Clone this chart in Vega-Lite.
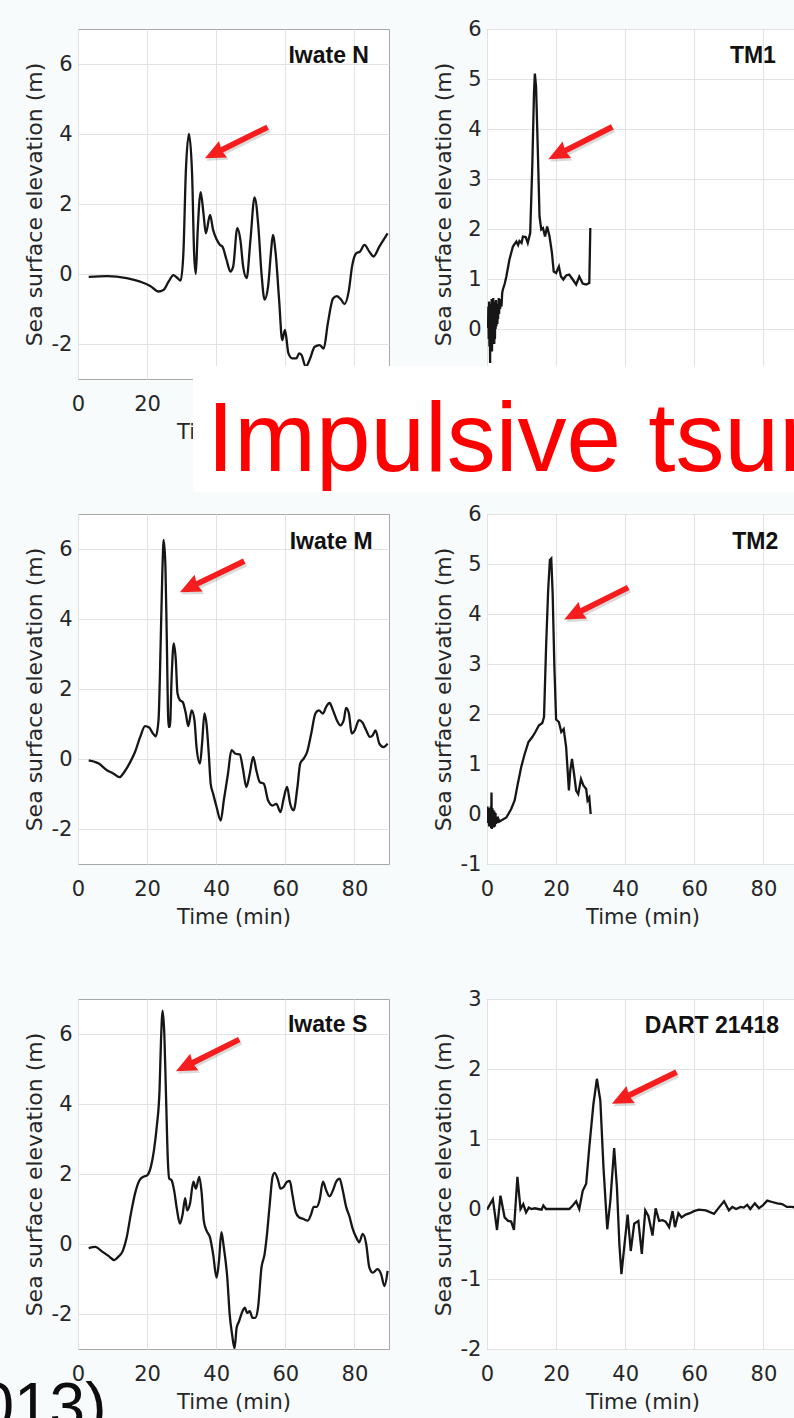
{
  "$schema": "https://vega.github.io/schema/vega-lite/v6.json",
  "autosize": {"type": "none"},
  "padding": {"left": 78, "top": 29, "right": 716, "bottom": 1389},
  "background": "#f7fbfc",
  "config": {
    "font": "DejaVu Sans",
    "view": {"stroke": "#a8a8a8", "strokeWidth": 1, "fill": "#ffffff"},
    "axis": {
      "grid": true, "gridColor": "#e2e2e2", "gridWidth": 1,
      "domain": false, "ticks": false,
      "labelFont": "DejaVu Sans", "labelFontSize": 21, "labelColor": "#262626",
      "labelFlush": false, "labelOverlap": false, "labelBound": false,
      "labelExpr": "'' + datum.value",
      "titleFont": "DejaVu Sans", "titleFontWeight": "normal", "titleColor": "#262626"
    },
    "axisX": {"labelPadding": 14, "titleFontSize": 21, "titlePadding": 7},
    "axisY": {"labelPadding": 6, "titleFontSize": 22, "titlePadding": 5}
  },
  "datasets": {
    "iwateN": [
      {"t":3.1,"h":-0.08},{"t":8.4,"h":-0.06},{"t":14.1,"h":-0.12},{"t":18,"h":-0.22},{"t":20.9,"h":-0.34},{"t":23.3,"h":-0.5},{"t":24.7,"h":-0.46},{"t":26.2,"h":-0.22},{"t":27.6,"h":-0.03},{"t":28.6,"h":-0.1},{"t":29.7,"h":-0.19},{"t":30.5,"h":0.6},{"t":31.2,"h":2.9},{"t":32.1,"h":4.0},{"t":33,"h":2.9},{"t":33.6,"h":0.6},{"t":34.1,"h":0.0},{"t":34.6,"h":1.16},{"t":35.5,"h":2.34},{"t":36.3,"h":1.74},{"t":37,"h":1.16},{"t":38.2,"h":1.69},{"t":39.1,"h":1.26},{"t":40.1,"h":0.99},{"t":41.1,"h":0.83},{"t":41.8,"h":0.78},{"t":43,"h":0.4},{"t":44.1,"h":0.07},{"t":44.9,"h":0.21},{"t":46.1,"h":1.31},{"t":47,"h":0.97},{"t":47.8,"h":0.21},{"t":48.8,"h":-0.12},{"t":49.9,"h":0.97},{"t":51.1,"h":2.19},{"t":52.2,"h":1.35},{"t":53.1,"h":0.02},{"t":54,"h":-0.73},{"t":55,"h":-0.36},{"t":55.9,"h":0.69},{"t":56.4,"h":1.12},{"t":57.2,"h":0.59},{"t":58.2,"h":-0.74},{"t":59.1,"h":-1.89},{"t":59.9,"h":-1.6},{"t":60.9,"h":-2.27},{"t":62,"h":-2.41},{"t":63.2,"h":-2.41},{"t":64,"h":-2.27},{"t":64.7,"h":-2.32},{"t":65.9,"h":-2.65},{"t":67,"h":-2.46},{"t":68.5,"h":-2.08},{"t":69.9,"h":-2.03},{"t":71.1,"h":-2.13},{"t":72.3,"h":-1.41},{"t":73.8,"h":-0.7},{"t":74.9,"h":-0.63},{"t":76.2,"h":-0.74},{"t":77.1,"h":-0.86},{"t":78.4,"h":-0.46},{"t":79.3,"h":0.21},{"t":80.5,"h":0.59},{"t":81.6,"h":0.64},{"t":82.9,"h":0.83},{"t":84.3,"h":0.64},{"t":85.5,"h":0.5},{"t":87.2,"h":0.78},{"t":89.6,"h":1.16}
    ],
    "tm1": [
      {"t":0.3,"h":0.02},{"t":0.4,"h":0.45},{"t":0.5,"h":-0.2},{"t":0.6,"h":0.55},{"t":0.7,"h":-0.35},{"t":0.8,"h":0.5},{"t":0.9,"h":-0.68},{"t":1.0,"h":0.3},{"t":1.05,"h":0.45},{"t":1.15,"h":-0.4},{"t":1.25,"h":0.2},{"t":1.35,"h":0.6},{"t":1.45,"h":-0.45},{"t":1.55,"h":0.35},{"t":1.65,"h":-0.2},{"t":1.8,"h":0.62},{"t":1.9,"h":-0.1},{"t":2.0,"h":0.5},{"t":2.1,"h":-0.3},{"t":2.2,"h":0.55},{"t":2.3,"h":-0.2},{"t":2.4,"h":0.4},{"t":2.5,"h":0.0},{"t":2.6,"h":0.58},{"t":2.7,"h":0.05},{"t":2.85,"h":0.5},{"t":3.0,"h":0.1},{"t":3.1,"h":0.45},{"t":3.2,"h":0.2},{"t":3.4,"h":0.62},{"t":3.5,"h":0.3},{"t":3.6,"h":0.55},{"t":3.8,"h":0.4},{"t":4.0,"h":0.6},{"t":4.2,"h":0.45},{"t":4.4,"h":0.72},{"t":4.6,"h":0.79},{"t":5.1,"h":0.9},{"t":5.6,"h":1.05},{"t":6.5,"h":1.39},{"t":7.5,"h":1.65},{"t":8.5,"h":1.75},{"t":9.0,"h":1.68},{"t":9.4,"h":1.76},{"t":10.0,"h":1.72},{"t":10.4,"h":1.85},{"t":11.2,"h":1.84},{"t":11.8,"h":1.72},{"t":12.5,"h":1.92},{"t":13.1,"h":3.25},{"t":13.6,"h":4.72},{"t":13.85,"h":5.11},{"t":14.2,"h":4.85},{"t":14.7,"h":3.59},{"t":15.2,"h":2.25},{"t":15.7,"h":1.99},{"t":16.2,"h":2.02},{"t":16.8,"h":1.85},{"t":17.4,"h":2.05},{"t":18.1,"h":1.85},{"t":18.8,"h":1.52},{"t":19.3,"h":1.15},{"t":20,"h":1.12},{"t":20.8,"h":1.25},{"t":21.4,"h":1.05},{"t":22.1,"h":0.99},{"t":22.9,"h":1.07},{"t":23.8,"h":1.09},{"t":24.8,"h":0.99},{"t":25.8,"h":0.89},{"t":26.7,"h":1.05},{"t":27.7,"h":0.91},{"t":28.7,"h":0.89},{"t":29.6,"h":0.92},{"t":29.9,"h":2.02}
    ],
    "iwateM": [
      {"t":3.1,"h":-0.04},{"t":6,"h":-0.13},{"t":8.4,"h":-0.32},{"t":10.3,"h":-0.42},{"t":12,"h":-0.52},{"t":13.4,"h":-0.37},{"t":15.1,"h":-0.09},{"t":16.5,"h":0.2},{"t":18,"h":0.63},{"t":19.4,"h":0.94},{"t":20.6,"h":0.9},{"t":21.6,"h":0.74},{"t":22.5,"h":0.65},{"t":23.3,"h":1.11},{"t":23.9,"h":3.21},{"t":24.4,"h":5.31},{"t":24.8,"h":6.26},{"t":25.3,"h":5.5},{"t":25.7,"h":3.4},{"t":26.2,"h":0.92},{"t":26.6,"h":0.92},{"t":27.1,"h":2.35},{"t":27.7,"h":3.3},{"t":28.3,"h":2.83},{"t":28.8,"h":1.87},{"t":29.5,"h":1.68},{"t":30.3,"h":1.63},{"t":31.2,"h":1.3},{"t":31.9,"h":0.94},{"t":32.9,"h":1.39},{"t":33.7,"h":1.11},{"t":34.3,"h":0.34},{"t":35.3,"h":-0.13},{"t":35.9,"h":0.44},{"t":36.6,"h":1.3},{"t":37.2,"h":0.99},{"t":37.9,"h":0.06},{"t":38.4,"h":-0.71},{"t":39.1,"h":-0.99},{"t":40.1,"h":-1.37},{"t":41.3,"h":-1.76},{"t":42.2,"h":-1.18},{"t":43.4,"h":-0.42},{"t":44.4,"h":0.25},{"t":45.6,"h":0.15},{"t":46.8,"h":0.13},{"t":47.8,"h":-0.32},{"t":48.7,"h":-0.8},{"t":49.7,"h":-0.42},{"t":50.7,"h":0.06},{"t":51.6,"h":-0.32},{"t":52.6,"h":-0.66},{"t":53.8,"h":-0.71},{"t":55,"h":-1.18},{"t":56.3,"h":-1.33},{"t":57.4,"h":-1.28},{"t":58.6,"h":-1.52},{"t":59.5,"h":-1.14},{"t":60.5,"h":-0.8},{"t":61.4,"h":-1.28},{"t":62.4,"h":-1.47},{"t":63.5,"h":-0.8},{"t":64.3,"h":-0.13},{"t":65.3,"h":0.01},{"t":66.3,"h":0.2},{"t":67.5,"h":0.73},{"t":68.7,"h":1.3},{"t":69.7,"h":1.39},{"t":70.9,"h":1.3},{"t":71.8,"h":1.49},{"t":72.8,"h":1.6},{"t":73.8,"h":1.39},{"t":74.9,"h":1.11},{"t":75.9,"h":0.96},{"t":76.9,"h":1.11},{"t":77.6,"h":1.46},{"t":78.4,"h":1.3},{"t":79.2,"h":0.73},{"t":80.1,"h":0.82},{"t":81.3,"h":1.11},{"t":82.4,"h":1.03},{"t":83.4,"h":0.82},{"t":84.5,"h":0.63},{"t":85.3,"h":0.68},{"t":86.1,"h":0.82},{"t":87.2,"h":0.44},{"t":88.4,"h":0.34},{"t":89.6,"h":0.44}
    ],
    "tm2": [
      {"t":0,"h":0},{"t":0.15,"h":0.15},{"t":0.3,"h":-0.18},{"t":0.45,"h":0.12},{"t":0.6,"h":-0.25},{"t":0.75,"h":0.1},{"t":0.9,"h":-0.22},{"t":1.05,"h":0.15},{"t":1.2,"h":-0.28},{"t":1.3,"h":0.43},{"t":1.4,"h":-0.3},{"t":1.55,"h":0.12},{"t":1.7,"h":-0.25},{"t":1.85,"h":0.08},{"t":2.0,"h":-0.27},{"t":2.15,"h":0.05},{"t":2.3,"h":-0.25},{"t":2.45,"h":0.02},{"t":2.6,"h":-0.2},{"t":2.8,"h":-0.05},{"t":3.0,"h":-0.18},{"t":3.3,"h":-0.1},{"t":3.6,"h":-0.15},{"t":4.1,"h":-0.13},{"t":5.6,"h":-0.07},{"t":7,"h":0.1},{"t":8,"h":0.27},{"t":8.9,"h":0.6},{"t":9.9,"h":0.94},{"t":10.9,"h":1.2},{"t":12,"h":1.44},{"t":13.1,"h":1.54},{"t":14,"h":1.64},{"t":15,"h":1.77},{"t":16,"h":1.82},{"t":16.5,"h":1.94},{"t":17.1,"h":3.34},{"t":17.7,"h":4.48},{"t":18.2,"h":5.08},{"t":18.6,"h":5.11},{"t":19,"h":4.41},{"t":19.5,"h":2.94},{"t":20,"h":1.89},{"t":20.8,"h":1.84},{"t":21.5,"h":1.64},{"t":22.2,"h":1.7},{"t":22.9,"h":1.34},{"t":23.7,"h":0.47},{"t":24.1,"h":0.87},{"t":24.6,"h":1.1},{"t":25.2,"h":0.8},{"t":25.8,"h":0.47},{"t":26.4,"h":0.4},{"t":27.2,"h":0.7},{"t":27.9,"h":0.57},{"t":28.7,"h":0.5},{"t":29.1,"h":0.27},{"t":29.6,"h":0.33},{"t":30,"h":0.0}
    ],
    "iwateS": [
      {"t":3.1,"h":-0.12},{"t":5,"h":-0.08},{"t":6.9,"h":-0.21},{"t":8.8,"h":-0.34},{"t":10.5,"h":-0.46},{"t":11.7,"h":-0.36},{"t":13,"h":-0.19},{"t":14.1,"h":0.19},{"t":15.3,"h":0.86},{"t":16.5,"h":1.44},{"t":17.8,"h":1.82},{"t":18.9,"h":1.92},{"t":20.1,"h":1.97},{"t":21.1,"h":2.21},{"t":22,"h":2.69},{"t":22.8,"h":3.36},{"t":23.6,"h":4.41},{"t":24,"h":5.76},{"t":24.5,"h":6.67},{"t":25,"h":5.95},{"t":25.5,"h":4.13},{"t":26,"h":2.4},{"t":26.4,"h":1.87},{"t":27.1,"h":1.82},{"t":27.8,"h":1.54},{"t":28.6,"h":1.01},{"t":29.5,"h":0.58},{"t":30.3,"h":0.86},{"t":31,"h":1.31},{"t":31.6,"h":0.96},{"t":32.4,"h":1.15},{"t":33.4,"h":1.78},{"t":34.1,"h":1.58},{"t":35.1,"h":1.92},{"t":35.8,"h":1.44},{"t":36.4,"h":0.67},{"t":37.2,"h":0.38},{"t":38.2,"h":0.19},{"t":39.1,"h":-0.29},{"t":40.1,"h":-0.96},{"t":40.8,"h":-0.48},{"t":41.5,"h":0.34},{"t":42.2,"h":-0.1},{"t":43.2,"h":-0.96},{"t":43.9,"h":-2.02},{"t":44.6,"h":-2.59},{"t":45.3,"h":-2.98},{"t":45.9,"h":-2.4},{"t":46.6,"h":-2.21},{"t":47.6,"h":-1.92},{"t":48.3,"h":-1.82},{"t":48.9,"h":-1.97},{"t":49.7,"h":-1.92},{"t":50.5,"h":-2.11},{"t":51.3,"h":-2.11},{"t":52.1,"h":-1.82},{"t":53.1,"h":-0.67},{"t":54,"h":-0.29},{"t":54.7,"h":0.29},{"t":55.5,"h":1.15},{"t":56.3,"h":1.92},{"t":56.9,"h":2.03},{"t":57.9,"h":1.82},{"t":58.6,"h":1.58},{"t":59.5,"h":1.63},{"t":60.5,"h":1.78},{"t":61.3,"h":1.8},{"t":62,"h":1.44},{"t":63,"h":0.91},{"t":63.9,"h":0.77},{"t":65.1,"h":0.72},{"t":66.5,"h":0.67},{"t":67.5,"h":0.86},{"t":68.2,"h":1.06},{"t":69.1,"h":1.06},{"t":69.9,"h":1.25},{"t":70.9,"h":1.78},{"t":71.8,"h":1.54},{"t":72.8,"h":1.36},{"t":73.8,"h":1.54},{"t":74.7,"h":1.78},{"t":75.7,"h":1.87},{"t":76.6,"h":1.54},{"t":77.6,"h":1.06},{"t":78.6,"h":0.77},{"t":79.5,"h":0.43},{"t":80.5,"h":0.19},{"t":81.4,"h":0.05},{"t":82.4,"h":0.29},{"t":83.4,"h":0},{"t":84.3,"h":-0.67},{"t":85.3,"h":-0.82},{"t":86.7,"h":-0.72},{"t":87.7,"h":-0.86},{"t":88.7,"h":-1.2},{"t":89.6,"h":-0.77}
    ],
    "dart": [
      {"t":0,"h":-0.01},{"t":1.7,"h":0.14},{"t":2.9,"h":-0.3},{"t":3.9,"h":0.19},{"t":5.1,"h":-0.12},{"t":6.1,"h":-0.17},{"t":7,"h":-0.18},{"t":7.8,"h":-0.3},{"t":8.8,"h":0.46},{"t":9.7,"h":0},{"t":10.5,"h":0.07},{"t":11.3,"h":-0.05},{"t":12.1,"h":0.02},{"t":12.9,"h":0},{"t":13.8,"h":0.01},{"t":14.8,"h":0},{"t":15.8,"h":-0.01},{"t":16.3,"h":0.05},{"t":17.1,"h":0},{"t":19,"h":0},{"t":21,"h":0},{"t":23.8,"h":0},{"t":24.8,"h":0.05},{"t":25.8,"h":0.11},{"t":26.7,"h":0},{"t":27.7,"h":0.26},{"t":28.7,"h":0.36},{"t":29.6,"h":0.88},{"t":30.8,"h":1.5},{"t":31.8,"h":1.86},{"t":32.8,"h":1.55},{"t":33.7,"h":0.6},{"t":34.8,"h":-0.29},{"t":35.7,"h":0.12},{"t":36.8,"h":0.87},{"t":37.6,"h":0.31},{"t":38.3,"h":-0.5},{"t":38.9,"h":-0.93},{"t":39.7,"h":-0.55},{"t":40.7,"h":-0.08},{"t":41.6,"h":-0.6},{"t":42.6,"h":-0.21},{"t":43.8,"h":-0.17},{"t":44.8,"h":-0.64},{"t":45.8,"h":-0.02},{"t":46.7,"h":-0.1},{"t":47.9,"h":-0.38},{"t":48.8,"h":0.01},{"t":49.8,"h":-0.17},{"t":50.8,"h":-0.16},{"t":51.7,"h":-0.18},{"t":52.7,"h":-0.26},{"t":53.7,"h":-0.03},{"t":54.4,"h":-0.26},{"t":55.4,"h":-0.06},{"t":56.3,"h":-0.12},{"t":57.5,"h":-0.08},{"t":58.7,"h":-0.06},{"t":59.9,"h":-0.03},{"t":61.3,"h":-0.01},{"t":63.3,"h":-0.02},{"t":65.7,"h":-0.07},{"t":67.1,"h":0.02},{"t":68.6,"h":0.11},{"t":70,"h":-0.02},{"t":71,"h":0.03},{"t":72.1,"h":0},{"t":73.4,"h":0.03},{"t":74.3,"h":0.02},{"t":75.3,"h":0.06},{"t":76.2,"h":0},{"t":77.5,"h":0.08},{"t":78.7,"h":0.01},{"t":79.8,"h":0.05},{"t":81.1,"h":0.12},{"t":82.5,"h":0.1},{"t":84,"h":0.08},{"t":85.4,"h":0.07},{"t":86.8,"h":0.03},{"t":88.3,"h":0.03},{"t":89.5,"h":0.02}
    ]
  },
  "columns": 2,
  "spacing": {"row": 135, "column": 98},
  "bounds": "flush",
  "concat": [
    {
      "width": 311, "height": 350,
      "layer": [
        {
          "data": {"name": "iwateN"},
          "mark": {"type": "line", "clip": true, "color": "#161616", "strokeWidth": 2.3, "interpolate": "monotone"},
          "encoding": {
            "x": {"field": "t", "type": "quantitative", "scale": {"domain": [0, 90], "nice": false, "zero": false}, "axis": {"values": [0, 20, 40, 60, 80], "labelExpr": "datum.value < 40 ? '' + datum.value : ''", "title": "Time (min)"}},
            "y": {"field": "h", "type": "quantitative", "scale": {"domain": [-3, 7], "nice": false, "zero": false}, "axis": {"values": [-2, 0, 2, 4, 6], "title": "Sea surface elevation (m)"}}
          }
        },
        {
          "data": {"values": [{}]},
          "mark": {"type": "text", "text": "Iwate N", "font": "Liberation Sans", "fontWeight": "bold", "fontSize": 23, "align": "right", "baseline": "alphabetic", "color": "#111111"},
          "encoding": {"x": {"datum": 84.2}, "y": {"datum": 6.02}}
        },
        {
          "data": {"values": [{}]},
          "mark": {"type": "point", "shape": "M -1 0 L -0.42 -0.26 L -0.46 -0.08 L 1 -0.08 L 1 0.08 L -0.46 0.08 L -0.42 0.26 Z", "filled": true, "color": "#555555", "opacity": 0.22, "strokeWidth": 0, "size": 4900, "angle": -26.3},
          "encoding": {"x": {"datum": 46.25}, "y": {"datum": 3.68}}
        },
        {
          "data": {"values": [{}]},
          "mark": {"type": "point", "shape": "M -1 0 L -0.42 -0.26 L -0.46 -0.08 L 1 -0.08 L 1 0.08 L -0.46 0.08 L -0.42 0.26 Z", "filled": true, "color": "#f51d1d", "opacity": 1, "strokeWidth": 0, "size": 4900, "angle": -26.3},
          "encoding": {"x": {"datum": 45.8}, "y": {"datum": 3.75}}
        }
      ]
    },
    {
      "width": 311, "height": 350,
      "layer": [
        {
          "data": {"name": "tm1"},
          "mark": {"type": "line", "clip": true, "color": "#161616", "strokeWidth": 2.3},
          "encoding": {
            "x": {"field": "t", "type": "quantitative", "scale": {"domain": [0, 90], "nice": false, "zero": false}, "axis": {"values": [0, 20, 40, 60, 80], "labels": false, "title": null}},
            "y": {"field": "h", "type": "quantitative", "scale": {"domain": [-1, 6], "nice": false, "zero": false}, "axis": {"values": [0, 1, 2, 3, 4, 5, 6], "title": "Sea surface elevation (m)", "titlePadding": 12}}
          }
        },
        {
          "data": {"values": [{}]},
          "mark": {"type": "text", "text": "TM1", "font": "Liberation Sans", "fontWeight": "bold", "fontSize": 23, "align": "right", "baseline": "alphabetic", "color": "#111111"},
          "encoding": {"x": {"datum": 83.6}, "y": {"datum": 5.32}}
        },
        {
          "data": {"values": [{}]},
          "mark": {"type": "point", "shape": "M -1 0 L -0.42 -0.26 L -0.46 -0.08 L 1 -0.08 L 1 0.08 L -0.46 0.08 L -0.42 0.26 Z", "filled": true, "color": "#555555", "opacity": 0.22, "strokeWidth": 0, "size": 5140, "angle": -26.8},
          "encoding": {"x": {"datum": 27.45}, "y": {"datum": 3.67}}
        },
        {
          "data": {"values": [{}]},
          "mark": {"type": "point", "shape": "M -1 0 L -0.42 -0.26 L -0.46 -0.08 L 1 -0.08 L 1 0.08 L -0.46 0.08 L -0.42 0.26 Z", "filled": true, "color": "#f51d1d", "opacity": 1, "strokeWidth": 0, "size": 5140, "angle": -26.8},
          "encoding": {"x": {"datum": 27.0}, "y": {"datum": 3.72}}
        },
        {
          "data": {"values": [{}]},
          "mark": {"type": "rect", "color": "#ffffff", "opacity": 1, "clip": false},
          "encoding": {"x": {"datum": -85.1}, "x2": {"datum": 99.3}, "y": {"datum": -0.74}, "y2": {"datum": -3.26}}
        },
        {
          "data": {"values": [{}]},
          "mark": {"type": "text", "text": "Impulsive tsunami", "font": "Liberation Sans", "fontSize": 98, "align": "left", "baseline": "alphabetic", "color": "#ff0000", "clip": false},
          "encoding": {"x": {"datum": -81.0}, "y": {"datum": -2.84}}
        }
      ]
    },
    {
      "width": 311, "height": 350,
      "layer": [
        {
          "data": {"name": "iwateM"},
          "mark": {"type": "line", "clip": true, "color": "#161616", "strokeWidth": 2.3, "interpolate": "monotone"},
          "encoding": {
            "x": {"field": "t", "type": "quantitative", "scale": {"domain": [0, 90], "nice": false, "zero": false}, "axis": {"values": [0, 20, 40, 60, 80], "title": "Time (min)"}},
            "y": {"field": "h", "type": "quantitative", "scale": {"domain": [-3, 7], "nice": false, "zero": false}, "axis": {"values": [-2, 0, 2, 4, 6], "title": "Sea surface elevation (m)"}}
          }
        },
        {
          "data": {"values": [{}]},
          "mark": {"type": "text", "text": "Iwate M", "font": "Liberation Sans", "fontWeight": "bold", "fontSize": 23, "align": "right", "baseline": "alphabetic", "color": "#111111"},
          "encoding": {"x": {"datum": 85.3}, "y": {"datum": 5.99}}
        },
        {
          "data": {"values": [{}]},
          "mark": {"type": "point", "shape": "M -1 0 L -0.42 -0.26 L -0.46 -0.08 L 1 -0.08 L 1 0.08 L -0.46 0.08 L -0.42 0.26 Z", "filled": true, "color": "#555555", "opacity": 0.22, "strokeWidth": 0, "size": 5100, "angle": -25.7},
          "encoding": {"x": {"datum": 39.25}, "y": {"datum": 5.14}}
        },
        {
          "data": {"values": [{}]},
          "mark": {"type": "point", "shape": "M -1 0 L -0.42 -0.26 L -0.46 -0.08 L 1 -0.08 L 1 0.08 L -0.46 0.08 L -0.42 0.26 Z", "filled": true, "color": "#f51d1d", "opacity": 1, "strokeWidth": 0, "size": 5100, "angle": -25.7},
          "encoding": {"x": {"datum": 38.8}, "y": {"datum": 5.21}}
        }
      ]
    },
    {
      "width": 311, "height": 350,
      "layer": [
        {
          "data": {"name": "tm2"},
          "mark": {"type": "line", "clip": true, "color": "#161616", "strokeWidth": 2.3},
          "encoding": {
            "x": {"field": "t", "type": "quantitative", "scale": {"domain": [0, 90], "nice": false, "zero": false}, "axis": {"values": [0, 20, 40, 60, 80], "title": "Time (min)"}},
            "y": {"field": "h", "type": "quantitative", "scale": {"domain": [-1, 6], "nice": false, "zero": false}, "axis": {"values": [-1, 0, 1, 2, 3, 4, 5, 6], "title": "Sea surface elevation (m)"}}
          }
        },
        {
          "data": {"values": [{}]},
          "mark": {"type": "text", "text": "TM2", "font": "Liberation Sans", "fontWeight": "bold", "fontSize": 23, "align": "right", "baseline": "alphabetic", "color": "#111111"},
          "encoding": {"x": {"datum": 84.3}, "y": {"datum": 5.3}}
        },
        {
          "data": {"values": [{}]},
          "mark": {"type": "point", "shape": "M -1 0 L -0.42 -0.26 L -0.46 -0.08 L 1 -0.08 L 1 0.08 L -0.46 0.08 L -0.42 0.26 Z", "filled": true, "color": "#555555", "opacity": 0.22, "strokeWidth": 0, "size": 5120, "angle": -26.6},
          "encoding": {"x": {"datum": 32.05}, "y": {"datum": 4.16}}
        },
        {
          "data": {"values": [{}]},
          "mark": {"type": "point", "shape": "M -1 0 L -0.42 -0.26 L -0.46 -0.08 L 1 -0.08 L 1 0.08 L -0.46 0.08 L -0.42 0.26 Z", "filled": true, "color": "#f51d1d", "opacity": 1, "strokeWidth": 0, "size": 5120, "angle": -26.6},
          "encoding": {"x": {"datum": 31.6}, "y": {"datum": 4.21}}
        }
      ]
    },
    {
      "width": 311, "height": 350,
      "layer": [
        {
          "data": {"name": "iwateS"},
          "mark": {"type": "line", "clip": true, "color": "#161616", "strokeWidth": 2.3, "interpolate": "monotone"},
          "encoding": {
            "x": {"field": "t", "type": "quantitative", "scale": {"domain": [0, 90], "nice": false, "zero": false}, "axis": {"values": [0, 20, 40, 60, 80], "title": "Time (min)"}},
            "y": {"field": "h", "type": "quantitative", "scale": {"domain": [-3, 7], "nice": false, "zero": false}, "axis": {"values": [-2, 0, 2, 4, 6], "title": "Sea surface elevation (m)"}}
          }
        },
        {
          "data": {"values": [{}]},
          "mark": {"type": "text", "text": "Iwate S", "font": "Liberation Sans", "fontWeight": "bold", "fontSize": 23, "align": "right", "baseline": "alphabetic", "color": "#111111"},
          "encoding": {"x": {"datum": 83.7}, "y": {"datum": 6.05}}
        },
        {
          "data": {"values": [{}]},
          "mark": {"type": "point", "shape": "M -1 0 L -0.42 -0.26 L -0.46 -0.08 L 1 -0.08 L 1 0.08 L -0.46 0.08 L -0.42 0.26 Z", "filled": true, "color": "#555555", "opacity": 0.22, "strokeWidth": 0, "size": 5010, "angle": -26.6},
          "encoding": {"x": {"datum": 37.95}, "y": {"datum": 5.32}}
        },
        {
          "data": {"values": [{}]},
          "mark": {"type": "point", "shape": "M -1 0 L -0.42 -0.26 L -0.46 -0.08 L 1 -0.08 L 1 0.08 L -0.46 0.08 L -0.42 0.26 Z", "filled": true, "color": "#f51d1d", "opacity": 1, "strokeWidth": 0, "size": 5010, "angle": -26.6},
          "encoding": {"x": {"datum": 37.5}, "y": {"datum": 5.39}}
        },
        {
          "data": {"values": [{}]},
          "mark": {"type": "text", "text": "2013)", "font": "Liberation Sans", "fontSize": 64, "align": "right", "baseline": "alphabetic", "color": "#0d0d0d", "clip": false},
          "encoding": {"x": {"datum": 8.25}, "y": {"datum": -5.26}}
        }
      ]
    },
    {
      "width": 311, "height": 350,
      "layer": [
        {
          "data": {"name": "dart"},
          "mark": {"type": "line", "clip": true, "color": "#161616", "strokeWidth": 2.3},
          "encoding": {
            "x": {"field": "t", "type": "quantitative", "scale": {"domain": [0, 90], "nice": false, "zero": false}, "axis": {"values": [0, 20, 40, 60, 80], "title": "Time (min)"}},
            "y": {"field": "h", "type": "quantitative", "scale": {"domain": [-2, 3], "nice": false, "zero": false}, "axis": {"values": [-2, -1, 0, 1, 2, 3], "title": "Sea surface elevation (m)"}}
          }
        },
        {
          "data": {"values": [{}]},
          "mark": {"type": "text", "text": "DART 21418", "font": "Liberation Sans", "fontWeight": "bold", "fontSize": 23, "align": "right", "baseline": "alphabetic", "color": "#111111"},
          "encoding": {"x": {"datum": 84.5}, "y": {"datum": 2.52}}
        },
        {
          "data": {"values": [{}]},
          "mark": {"type": "point", "shape": "M -1 0 L -0.42 -0.26 L -0.46 -0.08 L 1 -0.08 L 1 0.08 L -0.46 0.08 L -0.42 0.26 Z", "filled": true, "color": "#555555", "opacity": 0.22, "strokeWidth": 0, "size": 5180, "angle": -26},
          "encoding": {"x": {"datum": 45.95}, "y": {"datum": 1.694}}
        },
        {
          "data": {"values": [{}]},
          "mark": {"type": "point", "shape": "M -1 0 L -0.42 -0.26 L -0.46 -0.08 L 1 -0.08 L 1 0.08 L -0.46 0.08 L -0.42 0.26 Z", "filled": true, "color": "#f51d1d", "opacity": 1, "strokeWidth": 0, "size": 5180, "angle": -26},
          "encoding": {"x": {"datum": 45.5}, "y": {"datum": 1.73}}
        }
      ]
    }
  ]
}
